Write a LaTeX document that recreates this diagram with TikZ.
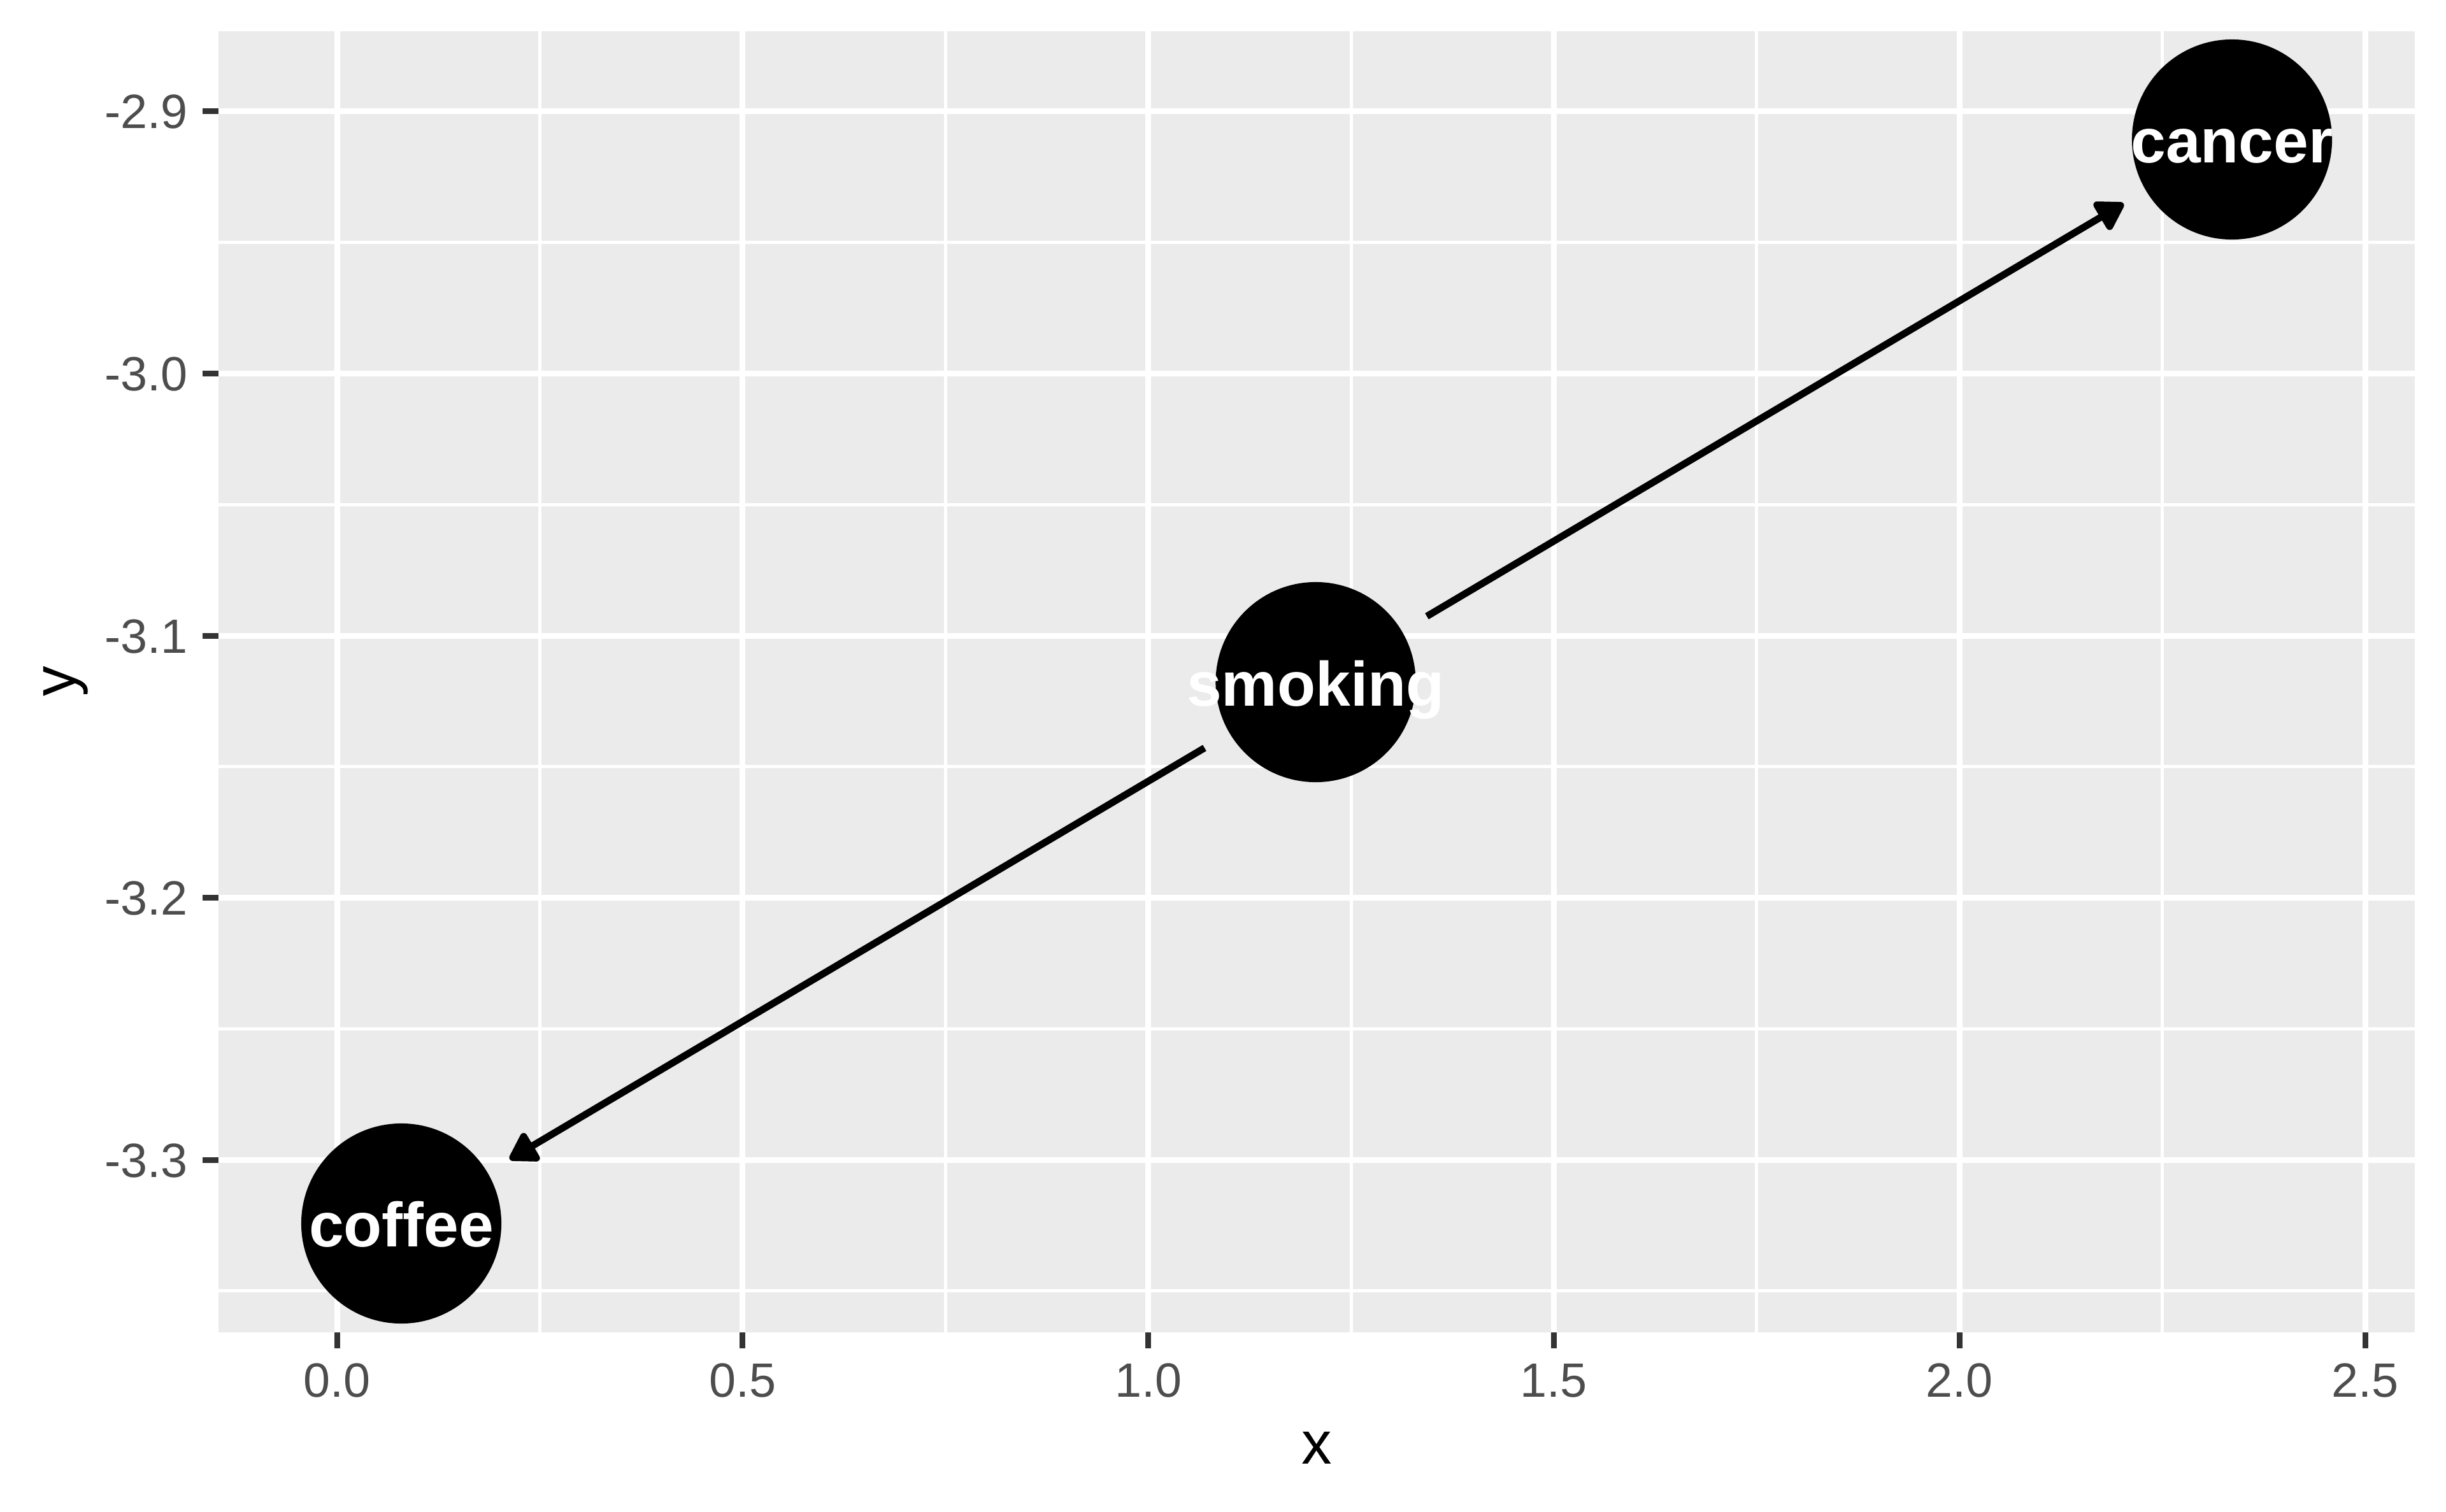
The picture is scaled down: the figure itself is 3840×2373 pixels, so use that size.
\documentclass[tikz,border=0pt]{standalone}
\usepackage{fontspec}
\setmainfont{Liberation Sans}
\usetikzlibrary{arrows.meta}
\definecolor{panelbg}{HTML}{EBEBEB}
\definecolor{ticktext}{HTML}{4D4D4D}
\definecolor{tickcol}{HTML}{333333}
\begin{document}
\begin{tikzpicture}[x=0.01cm,y=-0.01cm,
  minorgrid/.style={white,line width=0.05cm},
  majorgrid/.style={white,line width=0.09cm},
  tickmark/.style={tickcol,line width=0.09cm},
  ticklabel/.style={text=ticktext,inner sep=0,font=\fontsize{21.5}{26}\selectfont},
  axtitle/.style={inner sep=0,font=\fontsize{27}{32}\selectfont},
  dagnode/.style={circle,fill=black,minimum size=3.14cm,inner sep=0},
  daglabel/.style={text=white,inner sep=0,font=\fontsize{28}{32}\selectfont\bfseries},
  edge/.style={line width=0.11cm,-{Triangle[length=0.48cm,width=0.56cm,round]},shorten <=0.45cm,shorten >=0.40cm}]
\useasboundingbox (0,0) rectangle (3840,2373);
% panel
\fill[panelbg] (343,49) rectangle (3791,2092);
% minor grid
\foreach \x in {847.4,1484.2,2121,2757.8,3394.6}
  \draw[minorgrid] (\x,49) -- (\x,2092);
\foreach \y in {380.75,792.25,1203.75,1615.25,2026.75}
  \draw[minorgrid] (343,\y) -- (3791,\y);
% major grid, ticks, tick labels
\foreach \x/\t in {529/0.0,1165.8/0.5,1802.6/1.0,2439.4/1.5,3076.2/2.0,3713/2.5}{
  \draw[majorgrid] (\x,49) -- (\x,2092);
  \draw[tickmark] (\x,2092) -- (\x,2117);
  \node[ticklabel,anchor=base] at (\x,2193) {\t};
}
\foreach \y/\t in {175/-2.9,586.5/-3.0,998/-3.1,1409.5/-3.2,1821/-3.3}{
  \draw[majorgrid] (343,\y) -- (3791,\y);
  \draw[tickmark] (318,\y) -- (343,\y);
  \node[ticklabel,anchor=base east] at (295,\y+27) {\t};
}
% axis titles
\node[axtitle,anchor=base] (xtitle) at (2067,2298) {x};
\node[axtitle,rotate=90,anchor=base] (ytitle) at (118,1070) {y};
% nodes
\node[dagnode] (coffee) at (630,1921) {};
\node[dagnode] (smoking) at (2065.5,1071) {};
\node[dagnode] (cancer) at (3504,219) {};
% edges
\draw[edge] (smoking) -- (cancer);
\draw[edge] (smoking) -- (coffee);
% labels
\node[daglabel,anchor=base] (coffeelbl) at (630,1957) {coffee};
\node[daglabel,anchor=base] (smokinglbl) at (2065.5,1108) {smoking};
\node[daglabel,anchor=base] (cancerlbl) at (3504,256) {cancer};
\end{tikzpicture}
\end{document}
